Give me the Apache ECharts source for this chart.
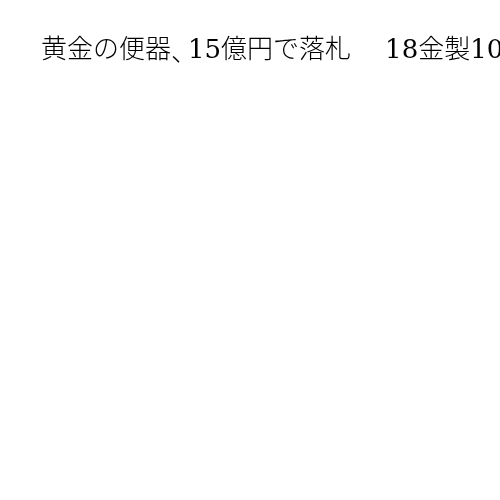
<!DOCTYPE html>
<html>
<head>
<meta charset="utf-8">
<script src="https://cdn.jsdelivr.net/npm/echarts@6/dist/echarts.min.js"></script>
<style>
  html, body { margin: 0; padding: 0; background: #fff; }
  #main { width: 500px; height: 500px; }
</style>
</head>
<body>
<div id="main"></div>
<script>
// タイトルのみのチャート（データ系列なし）
const titleParts = ['黄金の便器', '、', '15億円で落札', '　', '18金製100キロ超'];
const categories = [];
const values = [];

const myChart = echarts.init(document.getElementById('main'));
const option = {
    backgroundColor: '#fff',
    title: {
        text: titleParts[0] + '{c|' + titleParts[1] + '}' + titleParts[2] + '{s|' + titleParts[3] + '}' + titleParts[4],
        left: 36,
        top: 33,
        textStyle: {
            fontFamily: "'DejaVu Serif', 'Noto Sans CJK JP', serif",
            fontSize: 26,
            fontWeight: 300,
            color: '#000',
            rich: {
                c: { width: 17, fontSize: 26, fontWeight: 300, fontFamily: "'Noto Sans CJK JP'" },
                s: { width: 34, fontSize: 26 }
            }
        }
    },
    xAxis: { show: false, type: 'category', data: categories },
    yAxis: { show: false, type: 'value' },
    series: [{ type: 'bar', data: values }]
};
myChart.setOption(option);
</script>
</body>
</html>
